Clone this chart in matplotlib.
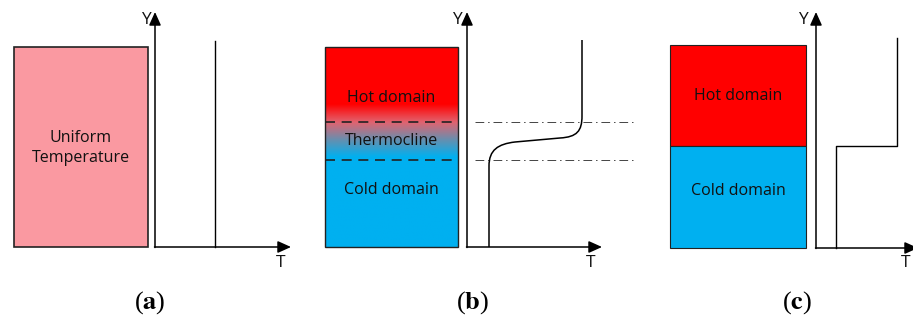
import matplotlib

matplotlib.use("Agg")

import matplotlib.pyplot as plt
import numpy as np
from matplotlib.colors import LinearSegmentedColormap
from matplotlib.patches import PathPatch, Rectangle
from matplotlib.path import Path

plt.rcParams["mathtext.fontset"] = "stix"

# everything below is in pixel units of the 913x320 canvas (y grows downward)
PINK = "#FA99A1"
RED = "#FF0000"
BLUE = "#00B0F0"

# tank boxes: (left, right, top, bottom)
tank_a = (14, 148, 47, 247)
tank_b = (325, 458, 47, 247)
tank_c = (670, 806, 45, 248)

# temperature axes: (y-axis x, x-axis y, y top, x right)
axes_a = (155, 247, 12, 291)
axes_b = (467, 247, 12, 602)
axes_c = (816, 248, 12, 918)

# profiles
uniform_T, uniform_top = 215, 41
thermo_top, thermo_bot = 122, 160
dashdot_x = (475, 635)
s_curve_verts = [(489, 247), (489, 166), (489, 150), (498, 144), (515, 142),
                 (560, 138), (577, 137), (582, 131), (582, 116), (582, 40)]
s_curve_codes = [Path.MOVETO, Path.LINETO, Path.CURVE4, Path.CURVE4, Path.CURVE4,
                 Path.LINETO, Path.CURVE4, Path.CURVE4, Path.CURVE4, Path.LINETO]
step_T = [836, 836, 897, 897]
step_Y = [248, 146, 146, 38]
interface_c = 146

# gradient stops for the stratified tank (pixel y, colour)
grad_y = [47, 104, 122, 141, 157, 247]
grad_c = [RED, RED, "#E2636F", "#5E92B4", BLUE, BLUE]

fig = plt.figure(figsize=(9.13, 3.2), dpi=100, facecolor="white")
ax = fig.add_axes([0, 0, 1, 1])
ax.set_xlim(0, 913)
ax.set_ylim(320, 0)
ax.set_axis_off()

TXT = dict(family="Open Sans", fontsize=11.5, ha="center", va="center", color="#111111")


def draw_axes(spec, ylab_x, tlab_x):
    x0, y0, ytop, xr = spec
    arr = dict(arrowstyle="-|>,head_length=0.8,head_width=0.36", color="black",
               lw=1.1, shrinkA=0, shrinkB=0)
    ax.annotate("", xy=(x0, ytop), xytext=(x0, y0 + 0.5), arrowprops=arr,
                annotation_clip=False)
    ax.annotate("", xy=(xr, y0), xytext=(x0 - 0.5, y0), arrowprops=arr,
                annotation_clip=False)
    ax.text(ylab_x, 20, "Y", **{**TXT, "fontsize": 12.5})
    ax.text(tlab_x, 263, "T", **{**TXT, "fontsize": 12.5})


# (a) uniform
l, r, t, b = tank_a
ax.add_patch(Rectangle((l, t), r - l, b - t, facecolor=PINK, edgecolor="#222222", lw=1.2))
ax.text((l + r) / 2, 148, "Uniform\nTemperature", linespacing=1.3, **TXT)
draw_axes(axes_a, 146, 281)
ax.plot([uniform_T, uniform_T], [axes_a[1], uniform_top], color="black", lw=1.0)

# (b) thermocline
l, r, t, b = tank_b
pos = [(y - t) / (b - t) for y in grad_y]
cmap = LinearSegmentedColormap.from_list("strat", list(zip(pos, grad_c)))
grad = np.linspace(0, 1, 256).reshape(-1, 1)
ax.imshow(grad, cmap=cmap, extent=(l, r, b, t), aspect="auto", interpolation="bilinear", zorder=1)
ax.add_patch(Rectangle((l, t), r - l, b - t, facecolor="none", edgecolor="#222222", lw=1.0, zorder=2))
for yy in (thermo_top, thermo_bot):
    ax.plot([l, r], [yy, yy], color="#222222", lw=1.2, dashes=(6, 4), zorder=3)
    ax.plot(dashdot_x, [yy, yy], color="#444444", lw=0.7, dashes=(9, 4, 1.5, 4), zorder=3)
ax.text((l + r) / 2, 98, "Hot domain", zorder=4, **TXT)
ax.text((l + r) / 2, 141, "Thermocline", zorder=4, **TXT)
ax.text((l + r) / 2, 190, "Cold domain", zorder=4, **TXT)
draw_axes(axes_b, 457, 591)
ax.add_patch(PathPatch(Path(s_curve_verts, s_curve_codes), facecolor="none",
                       edgecolor="black", lw=1.1, zorder=4))

# (c) ideal two-layer
l, r, t, b = tank_c
ax.add_patch(Rectangle((l, t), r - l, interface_c - t, facecolor=RED, edgecolor="#222222", lw=0.8))
ax.add_patch(Rectangle((l, interface_c), r - l, b - interface_c, facecolor=BLUE, edgecolor="#222222", lw=0.8))
ax.text((l + r) / 2, 96, "Hot domain", **TXT)
ax.text((l + r) / 2, 191, "Cold domain", **TXT)
draw_axes(axes_c, 803, 906)
ax.plot(step_T, step_Y, color="black", lw=1.0)

# captions
for x, letter in ((150, "a"), (473, "b"), (797, "c")):
    ax.text(x, 303, "(" + r"$\mathbf{" + letter + "}$" + ")", family="Liberation Serif",
            fontsize=19, ha="center", va="center", color="black")

fig.savefig("out.png", dpi=100, facecolor="white")
plt.close(fig)
